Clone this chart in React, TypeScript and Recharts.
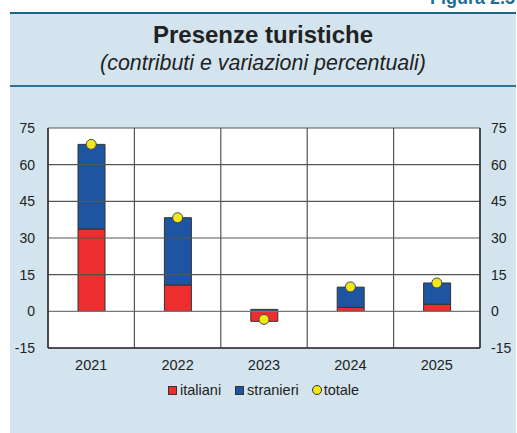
import React from 'react';
import { ComposedChart, Bar, Line, XAxis, YAxis, ReferenceLine, ReferenceArea } from 'recharts';

const years = ['2021', '2022', '2023', '2024', '2025'];
const italiani = [33.7, 10.8, -4.1, 1.6, 2.9];
const stranieri = [34.6, 27.5, 0.8, 8.3, 8.7];
const totale = [68.3, 38.3, -3.3, 10.0, 11.6];
const yTicks = [-15, 0, 15, 30, 45, 60, 75];

const data = years.map((y, i) => ({ year: y, italiani: italiani[i], stranieri: stranieri[i], totale: totale[i] }));

const RED = '#EE2D2E';
const BLUE = '#1E55A3';
const YELLOW = '#F2E817';
const BG = '#D3E4EE';
const FONT = '"Liberation Sans", Arial, Helvetica, sans-serif';

const Legend2 = () => (
  <div style={{ position: 'absolute', left: 168, top: 380, height: 20, display: 'flex', alignItems: 'center', fontFamily: FONT, fontSize: 14.5, color: '#222', whiteSpace: 'nowrap' }}>
    <span style={{ display: 'inline-block', width: 7, height: 7, background: RED, border: '1px solid #333', marginRight: 3 }} />
    <span style={{ marginRight: 14 }}>italiani</span>
    <span style={{ display: 'inline-block', width: 7, height: 7, background: BLUE, border: '1px solid #333', marginRight: 3 }} />
    <span style={{ marginRight: 13 }}>stranieri</span>
    <span style={{ display: 'inline-block', width: 8, height: 8, borderRadius: '50%', background: YELLOW, border: '1px solid #333', marginRight: 2 }} />
    <span>totale</span>
  </div>
);

export default function App() {
  return (
    <div style={{ position: 'absolute', left: 0, top: 0, width: 517, height: 433, overflow: 'hidden', background: '#fff', fontFamily: FONT }}>
      <div style={{ position: 'absolute', left: 10, top: 12, width: 506, height: 421, background: BG }} />
      <div style={{ position: 'absolute', left: 10, top: 12, width: 506, height: 2, background: '#1F6487' }} />
      <div style={{ position: 'absolute', left: 10, top: 85, width: 506, height: 2, background: '#2E7296' }} />
      <div style={{ position: 'absolute', right: 2, top: -12, fontSize: 18, fontWeight: 'bold', color: '#1C6F96', whiteSpace: 'nowrap' }}>Figura 2.5</div>
      <div style={{ position: 'absolute', left: 10, width: 506, top: 21, textAlign: 'center', fontSize: 24, fontWeight: 'bold', color: '#222', whiteSpace: 'nowrap' }}>Presenze turistiche</div>
      <div style={{ position: 'absolute', left: 10, width: 506, top: 51, textAlign: 'center', fontSize: 21.4, fontStyle: 'italic', color: '#222', whiteSpace: 'nowrap' }}>(contributi e variazioni percentuali)</div>
      <div style={{ position: 'absolute', left: 0, top: 0 }}>
        <ComposedChart width={517} height={433} data={data} stackOffset="sign" margin={{ top: 128, right: 0, bottom: 55, left: 0 }} barSize={27}>
          <ReferenceArea yAxisId={0} y1={-15} y2={75} fill="#fff" fillOpacity={1} stroke="none" />
          {yTicks.map((t) => (
            <ReferenceLine key={'h' + t} yAxisId={0} y={t} stroke={t === 0 ? '#777' : '#555'} strokeWidth={1.2} />
          ))}
          {years.map((y) => (
            <ReferenceLine key={'v' + y} yAxisId={0} x={y} position="start" stroke="#555" strokeWidth={1.2} />
          ))}
          <ReferenceLine yAxisId={0} x={years[years.length - 1]} position="end" stroke="#555" strokeWidth={1.2} />
          <XAxis dataKey="year" height={30} tickLine={false} axisLine={{ stroke: '#333', strokeWidth: 1.5 }} tickMargin={6} tick={{ fill: '#222', fontSize: 14.5, fontFamily: FONT }} />
          <YAxis yAxisId={0} orientation="left" width={48} domain={[-15, 75]} ticks={yTicks} interval={0} tickLine={false} axisLine={{ stroke: '#333', strokeWidth: 1.5 }} tickMargin={7} tick={{ fill: '#222', fontSize: 14, fontFamily: FONT }} />
          <YAxis yAxisId={1} orientation="right" width={37} domain={[-15, 75]} ticks={yTicks} interval={0} tickLine={false} axisLine={{ stroke: '#333', strokeWidth: 1.5 }} tickMargin={5} tick={{ fill: '#222', fontSize: 14, fontFamily: FONT }} />
          <Bar yAxisId={0} dataKey="italiani" stackId="a" fill={RED} stroke="#333" strokeWidth={1} isAnimationActive={false} />
          <Bar yAxisId={0} dataKey="stranieri" stackId="a" fill={BLUE} stroke="#333" strokeWidth={1} isAnimationActive={false} />
          <Line yAxisId={1} dataKey="totale" stroke="none" isAnimationActive={false} dot={{ r: 5, fill: YELLOW, stroke: '#3A4660', strokeWidth: 1 }} activeDot={false} />
        </ComposedChart>
      </div>
      <Legend2 />
    </div>
  );
}
